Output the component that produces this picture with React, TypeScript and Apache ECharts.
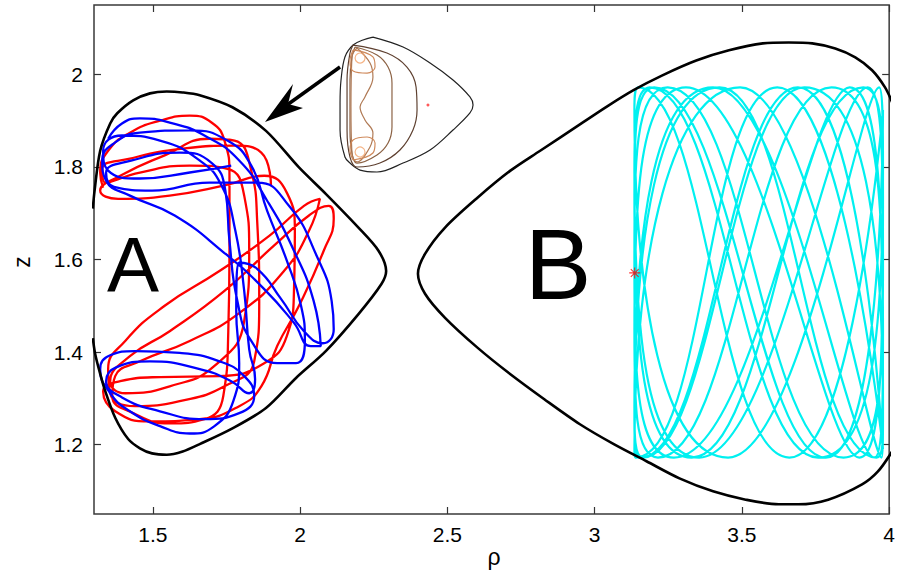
import React, { useEffect, useRef } from "react";
import * as echarts from "echarts";

const xTicks = [1.5, 2, 2.5, 3, 3.5, 4];
const yTicks = [1.2, 1.4, 1.6, 1.8, 2];

const leftBoundary = [
  [1.296, 1.71], [1.302, 1.749], [1.321, 1.835], [1.355, 1.894], [1.379, 1.916], [1.433, 1.944],
  [1.49, 1.959], [1.547, 1.963], [1.601, 1.961], [1.659, 1.955], [1.77, 1.929], [1.884, 1.878],
  [1.996, 1.799], [2.087, 1.742], [2.198, 1.669], [2.266, 1.619], [2.292, 1.575], [2.276, 1.547],
  [2.198, 1.482], [2.087, 1.402], [1.986, 1.344], [1.884, 1.279], [1.77, 1.235], [1.659, 1.201],
  [1.601, 1.185], [1.547, 1.178], [1.497, 1.181], [1.456, 1.192], [1.416, 1.212], [1.372, 1.258],
  [1.338, 1.316], [1.321, 1.353], [1.304, 1.396], [1.296, 1.43],
];

const rightBoundary = [
  [4.01, 1.94], [3.986, 1.972], [3.942, 2.009], [3.885, 2.037], [3.817, 2.056], [3.739, 2.067],
  [3.659, 2.069], [3.571, 2.067], [3.456, 2.052], [3.345, 2.03], [3.23, 1.998], [3.132, 1.966],
  [3.04, 1.93], [2.95, 1.892], [2.815, 1.835], [2.714, 1.792], [2.603, 1.734], [2.492, 1.669],
  [2.424, 1.612], [2.4, 1.569], [2.424, 1.526], [2.492, 1.474], [2.603, 1.409], [2.714, 1.352],
  [2.829, 1.298], [2.95, 1.244], [3.065, 1.201], [3.176, 1.164], [3.288, 1.127], [3.402, 1.099],
  [3.513, 1.081], [3.625, 1.071], [3.692, 1.071], [3.793, 1.081], [3.908, 1.114], [3.962, 1.142],
  [4.01, 1.185],
];

const orbitRed = [
  [1.331, 1.755], [1.321, 1.788], [1.348, 1.835], [1.422, 1.874], [1.524, 1.9], [1.625, 1.911],
  [1.699, 1.896], [1.743, 1.857], [1.76, 1.781], [1.76, 1.619], [1.756, 1.445], [1.739, 1.305],
  [1.675, 1.255], [1.557, 1.246], [1.433, 1.268], [1.362, 1.305], [1.372, 1.348], [1.456, 1.38],
  [1.625, 1.424], [1.793, 1.484], [1.945, 1.575], [2.03, 1.662], [2.067, 1.731], [2.013, 1.716],
  [1.895, 1.651], [1.726, 1.575], [1.54, 1.5], [1.406, 1.424], [1.348, 1.363], [1.355, 1.311],
  [1.439, 1.283], [1.591, 1.294], [1.743, 1.326], [1.844, 1.38], [1.861, 1.51], [1.854, 1.684],
  [1.834, 1.792], [1.777, 1.857], [1.692, 1.861], [1.54, 1.825], [1.389, 1.781], [1.321, 1.749],
  [1.382, 1.731], [1.557, 1.738], [1.743, 1.76], [1.878, 1.781], [1.955, 1.744], [1.982, 1.662],
  [1.979, 1.532], [1.955, 1.435], [1.878, 1.376], [1.726, 1.348], [1.524, 1.346], [1.389, 1.337],
  [1.331, 1.315], [1.372, 1.272], [1.49, 1.25], [1.659, 1.255], [1.793, 1.283], [1.868, 1.326],
  [1.922, 1.413], [1.996, 1.5], [2.08, 1.619], [2.114, 1.688], [2.097, 1.716], [2.03, 1.695],
  [1.911, 1.63], [1.743, 1.532], [1.557, 1.445], [1.422, 1.391], [1.355, 1.337], [1.406, 1.311],
  [1.557, 1.326], [1.709, 1.37], [1.81, 1.467], [1.827, 1.619], [1.81, 1.738], [1.753, 1.796],
  [1.625, 1.803], [1.456, 1.788], [1.338, 1.766], [1.328, 1.796], [1.422, 1.818], [1.608, 1.84],
  [1.777, 1.846], [1.868, 1.831], [1.901, 1.76],
];

const orbitBlue = [
  [1.348, 1.861], [1.395, 1.894], [1.456, 1.905], [1.557, 1.896], [1.675, 1.868], [1.793, 1.814],
  [1.888, 1.727], [1.979, 1.619], [2.046, 1.51], [2.07, 1.413], [2.036, 1.413], [1.979, 1.463],
  [1.878, 1.536], [1.743, 1.614], [1.574, 1.695], [1.422, 1.738], [1.341, 1.77], [1.328, 1.814],
  [1.372, 1.853], [1.456, 1.874], [1.625, 1.879], [1.753, 1.857], [1.834, 1.803], [1.888, 1.705],
  [1.955, 1.597], [2.003, 1.5], [2.016, 1.424], [1.986, 1.376], [1.922, 1.376], [1.834, 1.424],
  [1.787, 1.51], [1.76, 1.64], [1.746, 1.749], [1.699, 1.809], [1.591, 1.831], [1.429, 1.814],
  [1.341, 1.788], [1.368, 1.757], [1.497, 1.749], [1.692, 1.766], [1.854, 1.766], [1.962, 1.716],
  [2.056, 1.608], [2.107, 1.51], [2.114, 1.45], [2.077, 1.419], [2.013, 1.445], [1.935, 1.515],
  [1.854, 1.58], [1.793, 1.593], [1.783, 1.489], [1.793, 1.376], [1.773, 1.294], [1.709, 1.24],
  [1.625, 1.224], [1.524, 1.24], [1.422, 1.272], [1.355, 1.311], [1.321, 1.363], [1.355, 1.393],
  [1.439, 1.402], [1.591, 1.398], [1.726, 1.38], [1.81, 1.348], [1.844, 1.305], [1.793, 1.268],
  [1.675, 1.255], [1.524, 1.272], [1.395, 1.302], [1.341, 1.337], [1.375, 1.367], [1.49, 1.38],
  [1.659, 1.363], [1.766, 1.337], [1.827, 1.311], [1.847, 1.341], [1.827, 1.406], [1.81, 1.532],
  [1.78, 1.662], [1.733, 1.76], [1.659, 1.814], [1.524, 1.857], [1.395, 1.868], [1.331, 1.835],
  [1.348, 1.792], [1.456, 1.775], [1.625, 1.788], [1.766, 1.803],
];

// turning points of the box orbit (walls, top and bottom), in traversal order
const orbitCyan = [
  [3.979, 1.923], [3.661, 1.172], [3.148, 1.972], [3.135, 1.923], [3.453, 1.172], [3.966, 1.972],
  [3.979, 1.788], [3.759, 1.172], [3.187, 1.972], [3.135, 1.788], [3.355, 1.172], [3.927, 1.972],
  [3.979, 1.6], [3.845, 1.172], [3.248, 1.972], [3.135, 1.6], [3.269, 1.172], [3.866, 1.972],
  [3.979, 1.252], [3.957, 1.172], [3.424, 1.972], [3.135, 1.252], [3.157, 1.172], [3.69, 1.972],
  [3.979, 1.19], [3.62, 1.972], [3.14, 1.172], [3.135, 1.19], [3.494, 1.972], [3.974, 1.172],
  [3.979, 1.279], [3.712, 1.972], [3.164, 1.172], [3.135, 1.279], [3.402, 1.972], [3.95, 1.172],
  [3.979, 1.446], [3.804, 1.972], [3.215, 1.172], [3.135, 1.446], [3.31, 1.972], [3.899, 1.172],
  [3.979, 1.738], [3.912, 1.972], [3.329, 1.172], [3.135, 1.738], [3.202, 1.972], [3.785, 1.172],
  [3.979, 1.923],
];

const startPoint = [[3.136, 1.571]];

// inset (local units 0..100)
const insetOuter = [
  [27.1, 97.1], [48.6, 90], [67.9, 78.6], [84.3, 66.4], [96.4, 54.3], [98.6, 48.6], [96.4, 42.9],
  [84.3, 30.7], [67.9, 16.4], [48.6, 7.1], [30, 0.7], [17.9, 2.1], [10.7, 7.1], [7.1, 11.4],
  [3.6, 30.7], [3.6, 50], [4.3, 66.4], [7.1, 82.9], [12.9, 91.4], [20, 95], [27.1, 97.1],
];
const insetC1 = [
  [12.9, 91.4], [37.1, 85.7], [51.4, 75.7], [57.9, 61.4], [58.6, 45], [55.7, 30.7], [46.4, 16.4],
  [32.1, 7.1], [15.7, 4.3], [10.7, 11.4], [8.6, 30.7], [8.6, 66.4], [10.7, 85.7], [12.9, 91.4],
];
const insetC2 = [
  [14.3, 90], [30, 84.3], [37.9, 75.7], [40.7, 64.3], [40.7, 32.9], [37.9, 21.4], [30, 12.9],
  [15.7, 7.1], [12.1, 14.3], [10.7, 30.7], [10.7, 66.4], [12.1, 82.9], [14.3, 90],
];
const insetC3 = [
  [15.7, 89.3], [25, 78.6], [27.1, 68.6], [21.4, 54.3], [17.9, 47.1], [21.4, 37.9], [27.1, 28.6],
  [25, 18.6], [15.7, 7.9], [12.1, 14.3], [11.4, 47.1], [12.1, 82.9], [15.7, 89.3],
];
const insetLoopTop = [
  [12.9, 87.9], [27.1, 82.9], [28.6, 75.7], [22.9, 71.4], [12.9, 72.9], [10.7, 80], [12.9, 87.9],
];
const insetLoopBottom = [
  [12.9, 9.3], [27.1, 14.3], [28.6, 21.4], [22.9, 25.7], [12.9, 23.6], [10.7, 16.4], [12.9, 9.3],
];
const insetCircles = [[17.9, 82.1], [17.9, 15]];
const insetDot = [[66.4, 48.6]];

const FONT = "'Liberation Sans', Arial, Helvetica, sans-serif";

const tickStyle = { inside: true, length: 7, lineStyle: { color: "#333", width: 1.2 } };

function lineSeries(data: number[][], color: string, width: number, smooth: number, axis = 0, z = 2) {
  return {
    type: "line",
    data,
    xAxisIndex: axis,
    yAxisIndex: axis,
    showSymbol: false,
    symbol: "none",
    smooth,
    lineStyle: { color, width },
    z,
    silent: true,
  };
}

const asterisk =
  "path://M9,0h2v20h-2z M0,9h20v2h-20z M2.2,3.6l1.4,-1.4l14.2,14.2l-1.4,1.4z M16.4,2.2l1.4,1.4l-14.2,14.2l-1.4,-1.4z";

const option: any = {
  animation: false,
  backgroundColor: "#ffffff",
  grid: [
    { left: 94, top: 5, width: 800, height: 509, show: true, borderColor: "#3a3a3a", borderWidth: 1.5, backgroundColor: "transparent" },
    { left: 335, top: 33, width: 140, height: 140, show: false },
  ],
  xAxis: [
    {
      type: "value", gridIndex: 0, min: 1.3, max: 4, position: "bottom",
      axisLine: { show: false }, splitLine: { show: false },
      axisTick: { ...tickStyle, customValues: xTicks },
      axisLabel: { customValues: xTicks, fontSize: 21, fontFamily: FONT, color: "#000", margin: 10 },
    },
    {
      type: "value", gridIndex: 0, min: 1.3, max: 4, position: "top",
      axisLine: { show: false }, splitLine: { show: false },
      axisTick: { ...tickStyle, customValues: xTicks },
      axisLabel: { show: false },
    },
    { type: "value", gridIndex: 1, min: 0, max: 100, show: false },
  ],
  yAxis: [
    {
      type: "value", gridIndex: 0, min: 1.05, max: 2.15, position: "left",
      axisLine: { show: false }, splitLine: { show: false },
      axisTick: { ...tickStyle, customValues: yTicks },
      axisLabel: { customValues: yTicks, fontSize: 21, fontFamily: FONT, color: "#000", margin: 11 },
    },
    {
      type: "value", gridIndex: 0, min: 1.05, max: 2.15, position: "right",
      axisLine: { show: false }, splitLine: { show: false },
      axisTick: { ...tickStyle, customValues: yTicks },
      axisLabel: { show: false },
    },
    { type: "value", gridIndex: 1, min: 0, max: 100, show: false },
  ],
  series: [
    lineSeries(orbitCyan, "#00f0f0", 2.2, 0.55, 0, 2),
    lineSeries(orbitRed, "#ff0000", 2.3, 0.5, 0, 3),
    lineSeries(orbitBlue, "#0000ff", 2.3, 0.5, 0, 4),
    lineSeries(leftBoundary, "#000000", 2.6, 0.3, 0, 5),
    lineSeries(rightBoundary, "#000000", 2.6, 0.3, 0, 5),
    {
      type: "scatter", data: startPoint, xAxisIndex: 0, yAxisIndex: 0,
      symbol: asterisk, symbolSize: 11, itemStyle: { color: "#ff0000" }, z: 6, silent: true,
    },
    { ...lineSeries(insetOuter, "#222222", 1.2, 0.35, 2, 5), xAxisIndex: 2, yAxisIndex: 2 },
    { ...lineSeries(insetC1, "#5e4030", 1.2, 0.4, 2, 5), xAxisIndex: 2, yAxisIndex: 2 },
    { ...lineSeries(insetC2, "#8c6244", 1.2, 0.4, 2, 5), xAxisIndex: 2, yAxisIndex: 2 },
    { ...lineSeries(insetC3, "#b07a55", 1.2, 0.4, 2, 5), xAxisIndex: 2, yAxisIndex: 2 },
    { ...lineSeries(insetLoopTop, "#cf8a5c", 1.2, 0.4, 2, 5), xAxisIndex: 2, yAxisIndex: 2 },
    { ...lineSeries(insetLoopBottom, "#cf8a5c", 1.2, 0.4, 2, 5), xAxisIndex: 2, yAxisIndex: 2 },
    {
      type: "scatter", data: insetCircles, xAxisIndex: 2, yAxisIndex: 2,
      symbol: "circle", symbolSize: 10,
      itemStyle: { color: "rgba(0,0,0,0)", borderColor: "#f3a26a", borderWidth: 1.2 }, z: 6, silent: true,
    },
    {
      type: "scatter", data: insetDot, xAxisIndex: 2, yAxisIndex: 2,
      symbol: "circle", symbolSize: 3, itemStyle: { color: "#ff3030" }, z: 6, silent: true,
    },
  ],
  graphic: [
    { type: "line", shape: { x1: 340, y1: 67, x2: 287, y2: 105 }, style: { stroke: "#000", lineWidth: 3.5 }, z: 10 },
    { type: "polygon", shape: { points: [[265, 122], [293, 84], [288, 104], [303, 108]] }, style: { fill: "#000" }, z: 10 },
    {
      type: "text", x: 133, y: 265, z: 10,
      style: { text: "A", fontSize: 78, fontFamily: FONT, fill: "#000", align: "center", verticalAlign: "middle", textAlign: "center", textVerticalAlign: "middle" },
    },
    {
      type: "text", x: 558, y: 264, z: 10,
      style: { text: "B", fontSize: 100, fontFamily: FONT, fill: "#000", align: "center", verticalAlign: "middle", textAlign: "center", textVerticalAlign: "middle" },
    },
    {
      type: "text", x: 22, y: 262, rotation: Math.PI / 2, z: 10,
      style: { text: "z", fontSize: 23, fontFamily: FONT, fill: "#000", align: "center", verticalAlign: "middle", textAlign: "center", textVerticalAlign: "middle" },
    },
    {
      type: "text", x: 494, y: 557, z: 10,
      style: { text: "ρ", fontSize: 23, fontFamily: FONT, fill: "#000", align: "center", verticalAlign: "middle", textAlign: "center", textVerticalAlign: "middle" },
    },
  ],
};

export default function App() {
  const ref = useRef<HTMLDivElement>(null);
  useEffect(() => {
    if (!ref.current) return;
    const chart = echarts.init(ref.current, undefined, { renderer: "svg" });
    chart.setOption(option);
    return () => chart.dispose();
  }, []);
  return (
    <div
      ref={ref}
      style={{ position: "absolute", left: 0, top: 0, width: 898, height: 582, background: "#fff" }}
    />
  );
}
